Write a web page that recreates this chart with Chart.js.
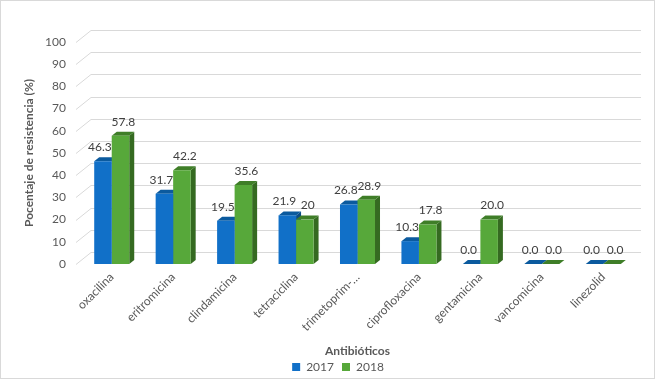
<!DOCTYPE html>
<html>
<head>
<meta charset="utf-8">
<script src="https://cdn.jsdelivr.net/npm/chart.js@4"></script>
<style>
    html, body { margin: 0; padding: 0; background: #ffffff; }
    #wrap { width: 655px; height: 379px; }
</style>
</head>
<body>
<div id="wrap"><canvas id="resistChart" width="655" height="379"></canvas></div>
<script>
var categories = ["oxacilina", "eritromicina", "clindamicina", "tetraciclina", "trimetoprim-…", "ciprofloxacina", "gentamicina", "vancomicina", "linezolid"];
var values2017 = [46.3, 31.7, 19.5, 21.9, 26.8, 10.3, 0, 0, 0];
var values2018 = [57.8, 42.2, 35.6, 20, 28.9, 17.8, 20, 0, 0];
var labels2017 = ["46.3", "31.7", "19.5", "21.9", "26.8", "10.3", "0.0", "0.0", "0.0"];
var labels2018 = ["57.8", "42.2", "35.6", "20", "28.9", "17.8", "20.0", "0.0", "0.0"];
var yTicks = [0, 10, 20, 30, 40, 50, 60, 70, 80, 90, 100];

var FONT = "Lato, 'Liberation Sans', sans-serif";
var DEPTH_X = 5, DEPTH_Y = 4;       // bar depth
var BACK_X = 15, BACK_Y = 12;       // back wall offset

// darker shades for the 3d top / side faces
var faces = [
    { top: "#0B5A9E", side: "#0A4C86" },
    { top: "#3F7E28", side: "#356A21" }
];

var backWall = {
    id: "backWall",
    beforeDraw: function (chart) {
        // excel puts the legend a bit right of centre
        chart.legend.left += 21;
        chart.legend.right += 21;
    },
    beforeDatasetsDraw: function (chart) {
        var ctx = chart.ctx;
        var y = chart.scales.y;
        var area = chart.chartArea;
        ctx.save();
        ctx.strokeStyle = "#D9D9D9";
        ctx.lineWidth = 1;
        yTicks.forEach(function (v) {
            var py = Math.round(y.getPixelForValue(v)) + 0.5;
            ctx.beginPath();
            ctx.moveTo(area.left - 5, py);
            ctx.lineTo(area.left - 5 + BACK_X, py - BACK_Y);
            ctx.lineTo(641, py - BACK_Y);
            ctx.stroke();
        });
        ctx.restore();

        // top and side faces, drawn before the front faces
        ctx.save();
        for (var i = 0; i < categories.length; i++) {
            for (var d = 0; d < chart.data.datasets.length; d++) {
                var bar = chart.getDatasetMeta(d).data[i];
                var props = bar.getProps(["x", "y", "base", "width"], true);
                var l = props.x - props.width / 2, r = props.x + props.width / 2;
                var t = props.y, b = props.base;
                ctx.fillStyle = faces[d].side;
                ctx.beginPath();
                ctx.moveTo(r, t);
                ctx.lineTo(r + DEPTH_X, t - DEPTH_Y);
                ctx.lineTo(r + DEPTH_X, b - DEPTH_Y);
                ctx.lineTo(r, b);
                ctx.closePath();
                ctx.fill();
                ctx.fillStyle = faces[d].top;
                ctx.beginPath();
                ctx.moveTo(l, t);
                ctx.lineTo(l + DEPTH_X, t - DEPTH_Y);
                ctx.lineTo(r + DEPTH_X, t - DEPTH_Y);
                ctx.lineTo(r, t);
                ctx.closePath();
                ctx.fill();
            }
        }
        ctx.restore();
    },
    afterDatasetsDraw: function (chart) {
        var ctx = chart.ctx;
        ctx.save();
        ctx.font = "12px " + FONT;
        ctx.fillStyle = "#404040";
        ctx.textAlign = "center";
        ctx.textBaseline = "middle";
        var texts = [labels2017, labels2018];
        chart.data.datasets.forEach(function (ds, d) {
            chart.getDatasetMeta(d).data.forEach(function (bar, i) {
                var shift = d === 0 ? -3 : 3;
                ctx.fillText(texts[d][i], bar.x + shift, bar.y - 14);
            });
        });
        ctx.restore();
    },
    afterDraw: function (chart) {
        var ctx = chart.ctx;
        ctx.save();
        ctx.strokeStyle = "#D9D9D9";
        ctx.strokeRect(0.5, 0.5, chart.width - 1, chart.height - 1);
        ctx.restore();
    }
};

document.addEventListener("DOMContentLoaded", function () {
    var ctx = document.getElementById("resistChart").getContext("2d");
    new Chart(ctx, {
        type: "bar",
        data: {
            labels: categories,
            datasets: [
                {
                    label: "2017",
                    data: values2017,
                    backgroundColor: "#1170C8",
                    borderWidth: 0
                },
                {
                    label: "2018",
                    data: values2018,
                    backgroundColor: "#57A83A",
                    borderWidth: 0
                }
            ]
        },
        options: {
            responsive: false,
            animation: false,
            devicePixelRatio: 1,
            categoryPercentage: 0.57,
            barPercentage: 1,
            layout: { padding: { top: 42, right: 21, left: 0, bottom: -4 } },
            plugins: {
                tooltip: { enabled: false },
                legend: {
                    position: "bottom",
                    labels: {
                        boxWidth: 8,
                        boxHeight: 8,
                        padding: 8,
                        color: "#595959",
                        font: { family: FONT, size: 12 }
                    }
                }
            },
            scales: {
                x: {
                    afterFit: function (scale) { scale.height = 89; },
                    grid: { display: false, drawTicks: false },
                    border: { display: false },
                    ticks: {
                        autoSkip: false,
                        minRotation: 45,
                        maxRotation: 45,
                        padding: 6,
                        color: "#595959",
                        font: { family: FONT, size: 12 }
                    },
                    title: {
                        display: true,
                        text: "Antibióticos",
                        color: "#595959",
                        padding: { top: 8, bottom: -5 },
                        font: { family: FONT, size: 12, weight: "bold" }
                    }
                },
                y: {
                    min: 0,
                    max: 100,
                    afterFit: function (scale) { scale.width = 81; },
                    grid: { display: false, drawTicks: false },
                    border: { display: false },
                    ticks: {
                        stepSize: 10,
                        padding: 15,
                        color: "#595959",
                        font: { family: FONT, size: 12 }
                    },
                    title: {
                        display: true,
                        text: "Pocentaje de resistencia (%)",
                        color: "#595959",
                        padding: { top: 22, bottom: 0 },
                        font: { family: FONT, size: 12, weight: "bold" }
                    }
                }
            }
        },
        plugins: [backWall]
    });
});
</script>
</body>
</html>
